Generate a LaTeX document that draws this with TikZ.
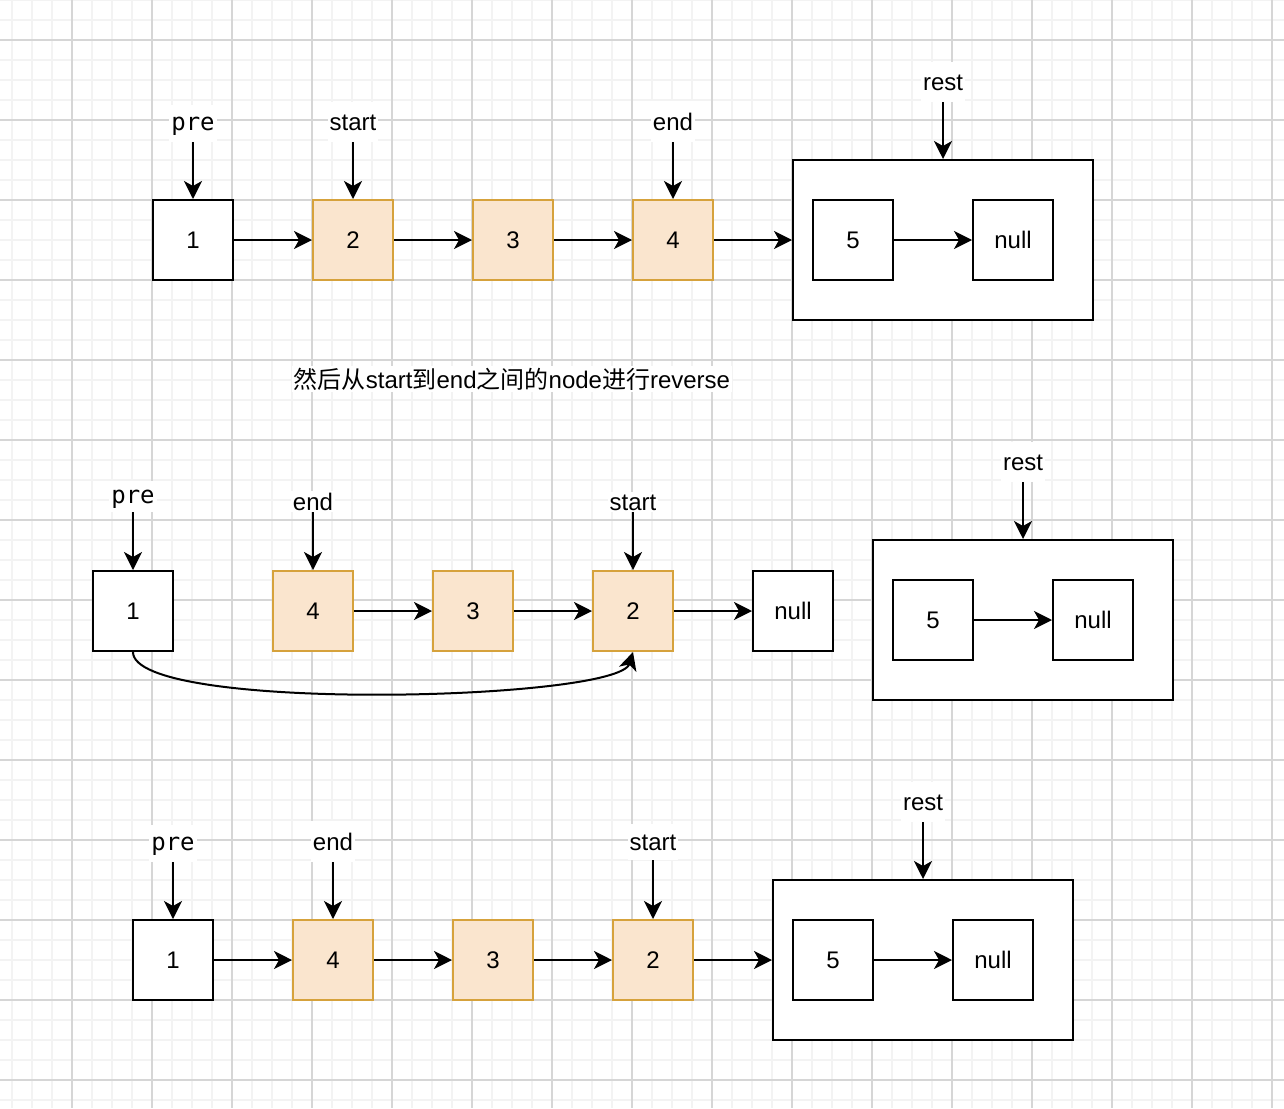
\documentclass[tikz,border=0pt]{standalone}
\usepackage{fontspec}
\setmainfont{Liberation Sans}
\newfontfamily\monofont{DejaVu Sans Mono}
\newfontfamily\cjkfont{Noto Sans CJK SC}
\usepackage{tikz}
\usetikzlibrary{arrows.meta}
\definecolor{cfill}{RGB}{250, 229, 206}
\definecolor{cedge}{RGB}{214, 162, 60}
\definecolor{cgrid}{RGB}{243, 243, 243}
\definecolor{cgridmajor}{RGB}{214, 214, 214}

\begin{document}
\begin{tikzpicture}[x=0.5pt, y=-0.5pt,
    txt/.style={font=\fontsize{12pt}{14pt}\selectfont},
    cell/.style={txt, draw, fill=white, line width=1pt, minimum width=40pt, minimum height=40pt, inner sep=0pt},
    hot/.style={cell, fill=cfill, draw=cedge},
    frame/.style={draw, fill=white, line width=1pt, minimum width=150pt, minimum height=80pt, inner sep=0pt},
    ptr/.style={txt, fill=white, anchor=base, text depth=0pt, inner xsep=1pt, inner ysep=6pt, outer sep=0pt},
    link/.style={line width=1pt, -{Stealth[length=9pt, width=9pt, inset=2.5pt]}}]

  \useasboundingbox (0, 0) rectangle (1284, 1108);
  \fill [white] (0, 0) rectangle (1284, 1108);

  % grid
  \foreach \gx in {12, 32, ..., 1284}
    \draw [cgrid, line width=1pt] (\gx, 0) -- (\gx, 1108);
  \foreach \gy in {0, 20, ..., 1108}
    \draw [cgrid, line width=1pt] (0, \gy) -- (1284, \gy);
  \foreach \gx in {72, 152, ..., 1284}
    \draw [cgridmajor, line width=1pt] (\gx, 0) -- (\gx, 1108);
  \foreach \gy in {40, 120, ..., 1108}
    \draw [cgridmajor, line width=1pt] (0, \gy) -- (1284, \gy);

  % before
  \node [cell] (t1) at (193, 240) {1};
  \node [hot] (t2) at (353, 240) {2};
  \node [hot] (t3) at (513, 240) {3};
  \node [hot] (t4) at (673, 240) {4};
  \node [frame] (trest) at (943, 240) {};
  \node [cell] (t5) at (853, 240) {5};
  \node [cell] (tnull) at (1013, 240) {null};

  \node [ptr] (tpre) at (193, 130) {\monofont pre};
  \node [ptr] (tstart) at (353, 130) {start};
  \node [ptr] (tend) at (673, 130) {end};
  \node [ptr] (tlrest) at (943, 90) {rest};

  \draw [link] (t1) -- (t2);
  \draw [link] (t2) -- (t3);
  \draw [link] (t3) -- (t4);
  \draw [link] (t4) -- (trest);
  \draw [link] (t5) -- (tnull);
  \draw [link] (tpre) -- (t1);
  \draw [link] (tstart) -- (t2);
  \draw [link] (tend) -- (t4);
  \draw [link] (tlrest) -- (trest);

  \node [txt, fill=white, anchor=base, inner sep=1pt] (note) at (512, 388)
    {{\cjkfont 然后从}start{\cjkfont 到}end{\cjkfont 之间的}node{\cjkfont 进行}reverse};

  % reversing
  \node [cell] (m1) at (133, 611) {1};
  \node [hot] (m4) at (313, 611) {4};
  \node [hot] (m3) at (473, 611) {3};
  \node [hot] (m2) at (633, 611) {2};
  \node [cell] (mnil) at (793, 611) {null};
  \node [frame] (mrest) at (1023, 620) {};
  \node [cell] (m5) at (933, 620) {5};
  \node [cell] (mnull) at (1093, 620) {null};

  \node [ptr, inner ysep=4.5pt] (mpre) at (133, 503) {\monofont pre};
  \node [ptr, inner ysep=1pt] (mend) at (313, 510) {end};
  \node [ptr, inner ysep=1pt] (mstart) at (633, 510) {start};
  \node [ptr] (mlrest) at (1023, 470) {rest};

  \draw [link] (m4) -- (m3);
  \draw [link] (m3) -- (m2);
  \draw [link] (m2) -- (mnil);
  \draw [link] (m5) -- (mnull);
  \draw [link] (m1.south) .. controls +(0, 61) and +(-15, 49) .. (m2.south);
  \draw [link] (mpre) -- (m1);
  \draw [link] (mend) -- (m4);
  \draw [link] (mstart) -- (m2);
  \draw [link] (mlrest) -- (mrest);

  % after
  \node [cell] (b1) at (173, 960) {1};
  \node [hot] (b4) at (333, 960) {4};
  \node [hot] (b3) at (493, 960) {3};
  \node [hot] (b2) at (653, 960) {2};
  \node [frame] (brest) at (923, 960) {};
  \node [cell] (b5) at (833, 960) {5};
  \node [cell] (bnull) at (993, 960) {null};

  \node [ptr] (bpre) at (173, 850) {\monofont pre};
  \node [ptr] (bend) at (333, 850) {end};
  \node [ptr, inner ysep=5pt] (bstart) at (653, 850) {start};
  \node [ptr] (blrest) at (923, 810) {rest};

  \draw [link] (b1) -- (b4);
  \draw [link] (b4) -- (b3);
  \draw [link] (b3) -- (b2);
  \draw [link] (b2) -- (brest);
  \draw [link] (b5) -- (bnull);
  \draw [link] (bpre) -- (b1);
  \draw [link] (bend) -- (b4);
  \draw [link] (bstart) -- (b2);
  \draw [link] (blrest) -- (brest);

\end{tikzpicture}
\end{document}
